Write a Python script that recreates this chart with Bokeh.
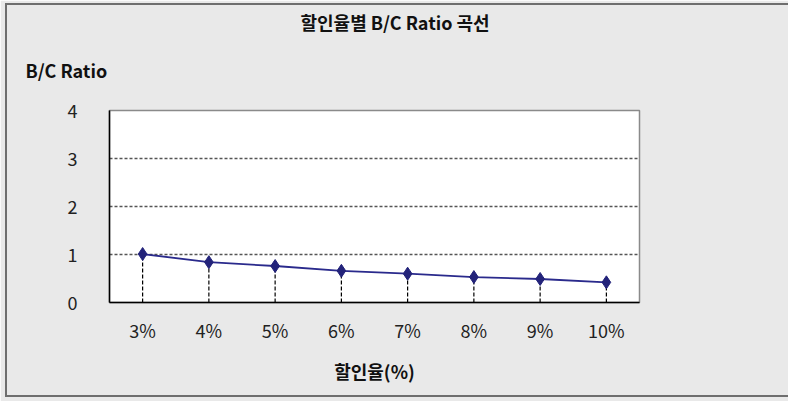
from bokeh.plotting import figure
from bokeh.models import ColumnDataSource, InlineStyleSheet, Title
from bokeh.embed import file_html
from bokeh.resources import INLINE

rates = ["3%", "4%", "5%", "6%", "7%", "8%", "9%", "10%"]
bc_ratio = [1.01, 0.84, 0.76, 0.66, 0.60, 0.53, 0.49, 0.42]
title_text = "할인율별 B/C Ratio 곡선"
y_title = "B/C Ratio"
x_title = "할인율(%)"

FONT = "Noto Sans CJK KR"
W, H = 788, 401
LEFT, RIGHT, TOP, BOTTOM = 109, 149, 110, 99

src = ColumnDataSource(dict(x=rates, y=bc_ratio, y0=[0] * len(rates)))

p = figure(width=W, height=H, x_range=rates, y_range=(0, 4),
           output_backend="svg", toolbar_location=None,
           min_border_left=LEFT, min_border_right=RIGHT,
           min_border_top=TOP, min_border_bottom=BOTTOM)
p.background_fill_color = "white"
p.border_fill_color = "#e9e9e9"
p.outline_line_color = "#8a8a8a"
p.outline_line_width = 1.5

p.xgrid.grid_line_color = None
p.ygrid.grid_line_color = "#555555"
p.ygrid.grid_line_dash = "3 2"
p.ygrid.grid_line_width = 1.5
p.yaxis.ticker = [0, 1, 2, 3, 4]

for ax in (p.xaxis, p.yaxis):
    ax.axis_line_color = "black"
    ax.axis_line_width = 1.5
    ax.major_tick_line_color = None
    ax.minor_tick_line_color = None
    ax.major_label_text_font = FONT
    ax.major_label_text_font_size = "18px"
    ax.major_label_text_color = "#222222"

p.yaxis.major_label_standoff = 26
p.xaxis.major_label_standoff = 8
p.xaxis.axis_label = x_title
p.xaxis.axis_label_text_font = FONT
p.xaxis.axis_label_text_font_size = "18px"
p.xaxis.axis_label_text_font_style = "bold"
p.xaxis.axis_label_text_color = "#111111"
p.xaxis.axis_label_standoff = 12

p.segment(x0="x", y0="y0", x1="x", y1="y", source=src,
          line_color="black", line_dash="4 2", line_width=1.2)
p.line(x="x", y="y", source=src, line_color="#2a2a8c", line_width=1.8)
p.scatter(x="x", y="y", source=src, marker="diamond", size=13,
          fill_color="#23237a", line_color="#23237a")

# main title (outermost)
p.title.text = title_text
p.title.text_font = FONT
p.title.text_font_size = "18px"
p.title.text_font_style = "bold"
p.title.text_color = "#111111"
p.title.align = "left"
p.title.offset = 191
p.title.standoff = -17

# "B/C Ratio" as a second, inner title placed at the upper left
yt = Title(text=y_title, text_font=FONT, text_font_size="18px",
           text_font_style="bold", text_color="#111111",
           align="left", offset=25 - LEFT, standoff=56)
p.add_layout(yt, "above")

p.stylesheets = [InlineStyleSheet(css="""
:host::after {
  content: "";
  position: absolute;
  left: 5px; top: 3px; width: 783px; height: 394px;
  border-left: 2px solid #6e6e6e;
  border-top: 2px solid #6e6e6e;
  border-bottom: 2px solid #6e6e6e;
  box-sizing: border-box;
  pointer-events: none;
}
""")]

open("out.html", "w").write(file_html(p, INLINE))
